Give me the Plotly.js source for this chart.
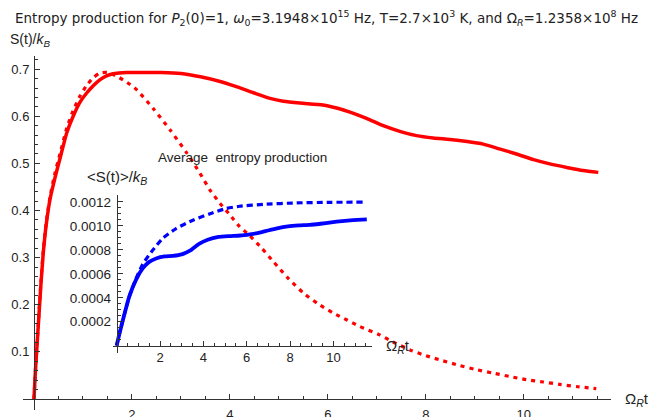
<!DOCTYPE html>
<html><head><meta charset="utf-8">
<script src="https://cdn.plot.ly/plotly-3.0.1.min.js"></script>
<style>html,body{margin:0;padding:0;background:#fff}#chart{width:663px;height:417px}</style>
</head><body><div id="chart"></div>
<script>
// Main plot: entropy S(t)/k_B vs Omega_R t
const mainSolidX = [0,0.03,0.06,0.1,0.14,0.19,0.25,0.33,0.43,0.53,0.67,0.8,0.94,1.08,1.21,1.35,1.48,1.65,1.89,2.2,2.6,3.0,3.4,3.8,4.1,4.48,4.82,5.09,5.43,5.9,6.2,6.45,6.8,7.13,7.5,7.81,8.15,8.49,8.8,9.17,9.5,9.85,10.2,10.53,10.9,11.21,11.52];
const mainSolidY = [0,0.06,0.11,0.175,0.24,0.31,0.37,0.425,0.47,0.51,0.565,0.60,0.63,0.65,0.665,0.678,0.686,0.691,0.693,0.693,0.693,0.691,0.684,0.674,0.664,0.650,0.638,0.632,0.628,0.624,0.617,0.609,0.595,0.580,0.567,0.559,0.554,0.551,0.547,0.541,0.531,0.520,0.508,0.499,0.491,0.485,0.481];
const mainDotX = [0,0.03,0.06,0.1,0.14,0.19,0.25,0.33,0.43,0.53,0.67,0.8,0.94,1.08,1.21,1.35,1.5,1.69,1.9,2.1,2.43,2.78,3.12,3.39,3.59,3.8,4.0,4.17,4.41,4.65,4.9,5.2,5.5,5.8,6.1,6.4,6.65,7.06,7.33,7.7,8.0,8.35,8.69,9.0,9.37,9.7,10.05,10.4,10.73,11.1,11.48];
const mainDotY = [0,0.06,0.11,0.18,0.245,0.315,0.375,0.43,0.48,0.52,0.575,0.612,0.643,0.666,0.682,0.692,0.693,0.685,0.672,0.656,0.617,0.571,0.522,0.479,0.444,0.415,0.391,0.369,0.346,0.32,0.29,0.255,0.225,0.202,0.183,0.167,0.154,0.136,0.121,0.103,0.092,0.081,0.071,0.063,0.055,0.048,0.041,0.036,0.031,0.026,0.022];
// Inset: average entropy <S(t)>/k_B
const insetSolidX = [0,0.1,0.28,0.58,0.89,1.2,1.5,1.85,2.2,2.6,3.0,3.4,3.8,4.2,4.7,5.2,5.7,6.15,6.5,6.9,7.4,7.9,8.4,8.9,9.4,9.9,10.4,10.9,11.54];
const insetSolidY = [0,0.00008,0.00021,0.00041,0.00055,0.000645,0.0007,0.00073,0.000745,0.00075,0.000762,0.000795,0.00085,0.000885,0.000908,0.000915,0.00092,0.00093,0.00094,0.000958,0.00098,0.000996,0.001004,0.001008,0.001018,0.00103,0.00104,0.001048,0.001055];
const insetDashX = [0,0.1,0.28,0.58,0.89,1.2,1.66,2.12,2.74,3.51,4.28,5.05,5.66,6.77,8.31,9.85,11.38];
const insetDashY = [0,0.00008,0.00021,0.00041,0.00056,0.00068,0.000797,0.000895,0.000978,0.001047,0.0011,0.001145,0.001164,0.00118,0.001192,0.001197,0.001198];
// Tick labels
const mainXTicks = [2,4,6,8,10];
const mainYTicks = [0.1,0.2,0.3,0.4,0.5,0.6,0.7];
const insetXTicks = [2,4,6,8,10];
const insetYTicks = [0.0002,0.0004,0.0006,0.0008,0.0010,0.0012];
const insetYLabels = ['0.0002','0.0004','0.0006','0.0008','0.0010','0.0012'];

const W = 663, H = 417;
const px = v => v / W, py = v => 1 - v / H;
function minors(a, b, step) { const r = []; for (let i = 0; a + i * step <= b + 1e-12; i++) r.push(+(a + i * step).toFixed(8)); return r; }
const axCol = '#333';
const FAM = 'Liberation Sans, Arial, sans-serif';
const tickFont = {family: FAM, size: 13, color: '#222'};

const traces = [
  {x: mainSolidX, y: mainSolidY, mode: 'lines', line: {color: '#ff0000', width: 3.5, shape: 'spline', smoothing: 0.6}, xaxis: 'x', yaxis: 'y'},
  {x: mainDotX, y: mainDotY, mode: 'lines', line: {color: '#ff0000', width: 3.2, dash: '4px,5px', shape: 'spline', smoothing: 0.6}, xaxis: 'x', yaxis: 'y'},
  {x: insetSolidX, y: insetSolidY, mode: 'lines', line: {color: '#0000ff', width: 3.8, shape: 'spline', smoothing: 0.5}, xaxis: 'x2', yaxis: 'y2'},
  {x: insetDashX, y: insetDashY, mode: 'lines', line: {color: '#0000ff', width: 3.2, dash: '6px,4px', shape: 'spline', smoothing: 0.6}, xaxis: 'x2', yaxis: 'y2'}
];

function axis(extra) {
  return Object.assign({showgrid: false, zeroline: false, showline: true, linecolor: axCol, linewidth: 1,
    ticks: 'inside', ticklen: 5, tickwidth: 1, tickcolor: axCol, tickfont: tickFont, anchor: 'free', fixedrange: true}, extra);
}
const minorStyle = {ticks: 'inside', ticklen: 3, tickcolor: axCol, tickwidth: 1};

const titleText = 'Entropy production for <i>P</i><sub>2</sub>(0)=1, <i>ω</i><sub>0</sub>=3.1948×10<sup>15</sup> Hz, T=2.7×10<sup>3</sup> K, and Ω<sub><i>R</i></sub>=1.2358×10<sup>8</sup> Hz';

const layout = {
  width: W, height: H, margin: {l: 0, r: 0, t: 0, b: 0}, showlegend: false,
  paper_bgcolor: '#fff', plot_bgcolor: 'rgba(0,0,0,0)',
  font: {family: FAM, size: 13, color: '#222'},
  title: {text: ''},
  xaxis: axis({domain: [px(23), px(611)], range: [-0.224, 11.78], position: py(399), ticklabelstandoff: 3,
    tickmode: 'array', tickvals: mainXTicks, ticktext: mainXTicks.map(String),
    minor: Object.assign({tickmode: 'array', tickvals: minors(0.5, 11.5, 0.5)}, minorStyle)}),
  yaxis: axis({domain: [py(410), py(56)], range: [-0.0234, 0.728], position: px(34), ticklabelstandoff: 2,
    tickmode: 'array', tickvals: mainYTicks, ticktext: mainYTicks.map(v => v.toFixed(1)),
    minor: Object.assign({tickmode: 'array', tickvals: minors(0.02, 0.72, 0.02)}, minorStyle)}),
  xaxis2: axis({domain: [px(113), px(372)], range: [-0.17, 11.78], position: py(345.7),
    tickmode: 'array', tickvals: insetXTicks, ticktext: insetXTicks.map(String),
    minor: Object.assign({tickmode: 'array', tickvals: minors(0.5, 11.5, 0.5)}, minorStyle)}),
  yaxis2: axis({domain: [py(353), py(195)], range: [-0.000061, 0.001258], position: px(116.7), ticklabelstandoff: 3,
    tickmode: 'array', tickvals: insetYTicks, ticktext: insetYLabels, tickfont: {family: FAM, size: 13.5, color: '#222'},
    minor: Object.assign({tickmode: 'array', tickvals: minors(0.00005, 0.00125, 0.00005)}, minorStyle)}),
  annotations: [
    {text: titleText, xref: 'paper', yref: 'paper', x: px(13), y: py(18), xanchor: 'left', yanchor: 'middle', showarrow: false, font: {family: 'DejaVu Sans, sans-serif', size: 13.5}},
    {text: 'S(t)/<i>k</i><sub><i>B</i></sub>', xref: 'paper', yref: 'paper', x: px(8), y: py(40), xanchor: 'left', yanchor: 'middle', showarrow: false, font: {size: 14}},
    {text: 'Ω<sub><i>R</i></sub>t', xref: 'paper', yref: 'paper', x: px(623), y: py(399), xanchor: 'left', yanchor: 'middle', showarrow: false, font: {size: 15}},
    {text: 'Average  entropy production', xref: 'paper', yref: 'paper', x: px(243), y: py(157), xanchor: 'center', yanchor: 'middle', showarrow: false, font: {size: 13.5}},
    {text: '&lt;S(t)&gt;/<i>k</i><sub><i>B</i></sub>', xref: 'paper', yref: 'paper', x: px(85), y: py(177), xanchor: 'left', yanchor: 'middle', showarrow: false, font: {size: 15}},
    {text: 'Ω<sub><i>R</i></sub>t', xref: 'paper', yref: 'paper', x: px(384), y: py(346), xanchor: 'left', yanchor: 'middle', showarrow: false, font: {size: 15}}
  ]
};

Plotly.newPlot('chart', traces, layout, {displayModeBar: false, staticPlot: true});
</script>
</body></html>
